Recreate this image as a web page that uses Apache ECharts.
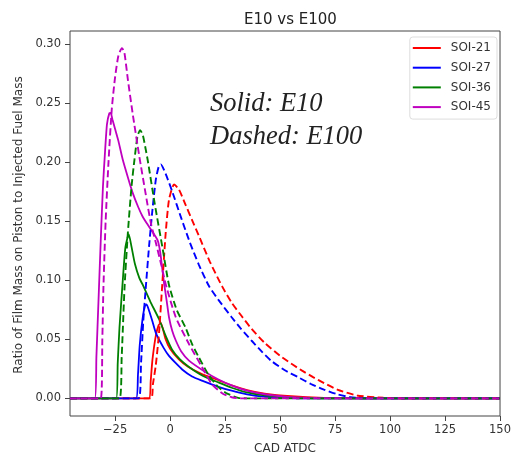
<!DOCTYPE html>
<html>
<head>
<meta charset="utf-8">
<script src="https://cdn.jsdelivr.net/npm/echarts@6/dist/echarts.min.js"></script>
<style>
  html, body { margin: 0; padding: 0; background: #fff; }
  #chart { width: 514px; height: 460px; }
</style>
</head>
<body>
<div id="chart"></div>
<script>
// tick labels
const xTicks = [-25, 0, 25, 50, 75, 100, 125, 150];
const yTicks = [0, 0.05, 0.10, 0.15, 0.20, 0.25, 0.30];

const legendNames = ['SOI-21', 'SOI-27', 'SOI-36', 'SOI-45'];
const colors = ['#ff0000', '#0000ff', '#008000', '#bf00bf'];

// E10 (solid) : [CAD ATDC, ratio]
const e10Soi21 = [[-45.5,0],[-9.6,0],[-8.8,0.015],[-8.0,0.033],[-6.5,0.053],[-5.2,0.062],[-4.2,0.064],[-2.2,0.051],[0,0.042],[4,0.033],[8,0.027],[14,0.021],[22,0.0154],[28,0.011],[35,0.007],[43,0.004],[55,0.0018],[70,0.0005],[90,0],[150,0]];
const e10Soi27 = [[-45.5,0],[-15.5,0],[-14.6,0.02],[-13.8,0.045],[-12.6,0.066],[-11.5,0.078],[-10.7,0.0795],[-9.5,0.074],[-8,0.065],[-6.4,0.055],[-3,0.043],[-0.5,0.036],[2.5,0.03],[5.5,0.0245],[10,0.0185],[14.5,0.015],[22,0.0098],[28,0.0065],[35,0.0035],[43,0.0015],[55,0.0003],[70,0],[150,0]];
const e10Soi36 = [[-45.5,0],[-24.5,0],[-23.8,0.03],[-23,0.06],[-21.5,0.1],[-20.3,0.128],[-18.8,0.139],[-17.5,0.128],[-16,0.114],[-14,0.102],[-12.4,0.096],[-9,0.082],[-5,0.067],[-2,0.053],[1,0.041],[4.5,0.033],[8.6,0.0266],[15,0.019],[22,0.0135],[28,0.009],[35,0.005],[43,0.0025],[55,0.0006],[70,0],[150,0]];
const e10Soi45 = [[-45.5,0],[-34.2,0],[-33.5,0.035],[-32.5,0.085],[-31.5,0.135],[-30.5,0.18],[-29.7,0.205],[-28.7,0.232],[-27.6,0.2415],[-27.0,0.2417],[-26.2,0.236],[-25,0.228],[-23.5,0.218],[-21.5,0.202],[-19,0.186],[-17,0.174],[-14.5,0.162],[-12.5,0.154],[-10.5,0.148],[-8.7,0.143],[-5.7,0.134],[-4.5,0.124],[-3.5,0.109],[-2.7,0.097],[-1.5,0.082],[-0.5,0.0687],[1,0.057],[2.6,0.049],[5,0.04],[8.6,0.032],[16,0.0224],[22,0.016],[28,0.011],[35,0.0065],[43,0.0035],[55,0.001],[70,0.0002],[85,0],[150,0]];

// E100 (dashed)
const e100Soi21 = [[-45.5,0],[-8.7,0],[-7.8,0.012],[-6.5,0.028],[-5,0.056],[-3.5,0.098],[-2,0.14],[-0.5,0.168],[1.8,0.181],[4,0.177],[7,0.164],[10,0.151],[13,0.138],[18,0.116],[23.6,0.095],[28,0.081],[32.6,0.0695],[37,0.059],[43,0.047],[50,0.036],[55,0.0295],[60,0.0235],[65,0.018],[70,0.013],[76,0.0075],[85,0.0025],[97,0.0005],[110,0],[150,0]];
const e100Soi27 = [[-45.5,0],[-14.3,0],[-13.2,0.03],[-12.2,0.065],[-11,0.095],[-9.5,0.13],[-8,0.16],[-6.5,0.185],[-5.2,0.196],[-4.2,0.198],[-2,0.19],[1,0.175],[5,0.153],[9,0.132],[13,0.1135],[17.6,0.0953],[22,0.0834],[28,0.0687],[32,0.0595],[37,0.049],[42,0.039],[46,0.0318],[52,0.024],[58,0.0182],[64,0.0122],[70,0.0075],[76,0.0035],[82,0.001],[90,0],[150,0]];
const e100Soi36 = [[-45.5,0],[-23,0],[-22,0.035],[-20.7,0.094],[-19.2,0.14],[-17.5,0.18],[-16.2,0.202],[-14.8,0.222],[-13.6,0.227],[-12.4,0.223],[-11.2,0.212],[-10.2,0.202],[-7,0.165],[-3.5,0.128],[-0.5,0.096],[3,0.075],[7,0.06],[10,0.046],[13,0.035],[17.6,0.0196],[22,0.0095],[26,0.004],[31,0.0005],[35,0],[150,0]];
const e100Soi45 = [[-45.5,0],[-31.5,0],[-30.8,0.05],[-30.3,0.094],[-29.3,0.15],[-28,0.2],[-26.5,0.245],[-25,0.272],[-23.5,0.29],[-21.9,0.2965],[-20.8,0.293],[-19.2,0.27],[-17,0.241],[-14,0.205],[-11,0.172],[-8.7,0.148],[-6.5,0.132],[-4,0.113],[-1.9,0.096],[2.6,0.0687],[8.6,0.046],[14.5,0.0266],[19,0.012],[24,0.004],[28,0.001],[32,0],[150,0]];

const solidData = [e10Soi21, e10Soi27, e10Soi36, e10Soi45];
const dashedData = [e100Soi21, e100Soi27, e100Soi36, e100Soi45];

const chart = echarts.init(document.getElementById('chart'));

const series = [];
solidData.forEach((d, i) => {
    series.push({
        name: legendNames[i],
        type: 'line',
        data: d,
        symbol: 'none',
        smooth: 0.2,
        lineStyle: {color: colors[i], width: 1.8},
        itemStyle: {color: colors[i]}
    });
});
dashedData.forEach((d, i) => {
    series.push({
        name: legendNames[i] + ' E100',
        type: 'line',
        data: d,
        symbol: 'none',
        smooth: 0.2,
        lineStyle: {color: colors[i], width: 1.9, type: [7, 3.5]},
        itemStyle: {color: colors[i]}
    });
});

const labelFont = {fontFamily: 'DejaVu Sans', fontSize: 12, color: '#333'};

chart.setOption({
    animation: false,
    backgroundColor: '#fff',
    title: {
        text: 'E10 vs E100',
        left: 239,
        top: 8,
        textStyle: {fontFamily: 'DejaVu Sans', fontSize: 15, fontWeight: 'normal', color: '#222'}
    },
    legend: {
        data: legendNames,
        orient: 'vertical',
        right: 17,
        top: 37,
        padding: [5, 6, 6, 3],
        itemGap: 7.7,
        itemWidth: 28,
        itemHeight: 2,
        icon: 'rect',
        borderColor: '#ddd',
        borderWidth: 1,
        borderRadius: 3,
        textStyle: {fontFamily: 'DejaVu Sans', fontSize: 12, color: '#333', lineHeight: 12, padding: [0, 0, 0, 5]}
    },
    grid: {
        left: 70, right: 9, top: 31, bottom: 42,
        show: true,
        borderColor: '#444',
        borderWidth: 1
    },
    xAxis: {
        type: 'value',
        min: -45.5,
        max: 150,
        name: 'CAD ATDC',
        nameLocation: 'middle',
        nameGap: 27,
        nameTextStyle: labelFont,
        axisLine: {show: false, onZero: false},
        splitLine: {show: false},
        axisTick: {show: true, length: 5, customValues: xTicks, lineStyle: {color: '#444'}},
        axisLabel: {
            customValues: xTicks,
            margin: 8,
            fontFamily: 'DejaVu Sans', fontSize: 11.5, color: '#333',
            formatter: v => (v < 0 ? '\u2212' + Math.abs(v) : String(v))
        }
    },
    yAxis: {
        type: 'value',
        min: -0.0149,
        max: 0.311,
        axisLine: {show: false, onZero: false},
        splitLine: {show: false},
        axisTick: {show: true, length: 5, customValues: yTicks, lineStyle: {color: '#444'}},
        axisLabel: {
            customValues: yTicks,
            margin: 9,
            fontFamily: 'DejaVu Sans', fontSize: 11.5, color: '#333',
            formatter: v => v.toFixed(2)
        }
    },
    graphic: [
        {type: 'text', x: 19, y: 225, rotation: Math.PI / 2,
         style: {text: 'Ratio of Film Mass on Piston to Injected Fuel Mass', font: '12px "DejaVu Sans"', fill: '#333', align: 'center', verticalAlign: 'middle'}},
        {type: 'text', x: 210, y: 104, style: {text: 'Solid: E10', font: 'italic 26.5px "Liberation Serif"', fill: '#222', verticalAlign: 'middle'}},
        {type: 'text', x: 210, y: 137, style: {text: 'Dashed: E100', font: 'italic 26.5px "Liberation Serif"', fill: '#222', verticalAlign: 'middle'}}
    ],
    series: series
});
</script>
</body>
</html>
